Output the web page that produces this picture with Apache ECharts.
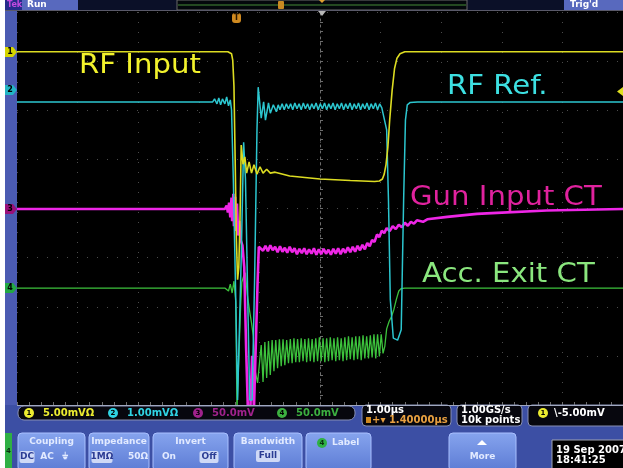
<!DOCTYPE html>
<html><head><meta charset="utf-8">
<script src="https://cdn.jsdelivr.net/npm/echarts@6/dist/echarts.min.js"></script>
<style>html,body{margin:0;padding:0;background:#fff;overflow:hidden}#c{width:623px;height:468px}</style>
</head><body><div id="c"></div>
<script>
// ---- data: time in µs after trigger, level in screen divisions from centre ----
const channelNames = ['RF Input', 'RF Ref.', 'Gun Input CT', 'Acc. Exit CT'];
const channelScales = ['5.00mVΩ', '1.00mVΩ', '50.0mV', '50.0mV'];
const timeBase = '1.00µs';
const horizDelay = '1.40000µs';
const sampleRate = '1.00GS/s';
const recordLength = '10k points';
const triggerLevel = '-5.00mV';
const stamp = ['19 Sep 2007', '18:41:25'];

const rfInput = [[-3.6,3.19],[-0.12,3.19],[-0.09,3.18],[-0.06,3.15],[-0.04,3.02],[-0.02,2.5],[0.0,1.0],[0.02,-0.6],[0.04,-1.45],[0.06,-1.2],[0.08,-0.2],[0.10,1.29],[0.13,0.90],[0.16,1.05],[0.19,0.72],[0.23,0.95],[0.27,0.72],[0.31,0.89],[0.36,0.70],[0.41,0.85],[0.46,0.72],[0.52,0.80],[0.58,0.72],[0.66,0.74],[0.90,0.66],[1.40,0.60],[1.90,0.57],[2.30,0.55],[2.38,0.56],[2.43,0.60],[2.46,0.70],[2.49,0.90],[2.52,1.25],[2.55,1.80],[2.59,2.40],[2.63,2.85],[2.67,3.06],[2.72,3.15],[2.80,3.19],[6.4,3.19]];

const rfRef = [[-3.6,2.17],[-0.37,2.17],[-0.34,2.23],[-0.30,2.13],[-0.27,2.25],[-0.24,2.11],[-0.21,2.23],[-0.17,2.13],[-0.14,2.27],[-0.11,2.09],[-0.08,2.21],[-0.06,2.01],[-0.03,0.58],[0.01,-1.85],[0.04,-3.9],[0.07,-3.9],[0.10,-1.0],[0.14,1.35],[0.17,0.6],[0.21,-2.0],[0.24,-3.9],[0.28,-3.9],[0.32,-1.5],[0.36,1.6],[0.38,2.47],[0.43,1.84],[0.47,2.17],[0.50,1.80],[0.55,2.15],[0.58,1.94],[0.63,2.11],[0.68,1.97],[0.71,2.11],
[0.74,2.01],[0.775,2.13],[0.81,2.01],[0.845,2.13],[0.88,2.03],[0.915,2.13],[0.95,2.01],[0.985,2.15],[1.02,2.03],[1.055,2.13],[1.09,2.01],[1.125,2.15],[1.16,2.03],[1.195,2.13],[1.23,2.01],[1.265,2.13],[1.30,2.03],[1.335,2.15],[1.37,2.01],[1.405,2.13],[1.44,2.03],[1.475,2.15],[1.51,2.01],[1.545,2.13],[1.58,2.03],[1.615,2.15],[1.65,2.01],[1.685,2.13],[1.72,2.03],[1.755,2.15],[1.79,2.01],[1.825,2.13],[1.86,2.03],[1.895,2.15],[1.93,2.01],[1.965,2.13],[2.00,2.03],[2.035,2.15],[2.07,2.01],[2.105,2.13],[2.14,2.03],[2.175,2.15],[2.21,2.01],[2.245,2.13],[2.28,2.03],[2.315,2.15],[2.35,2.01],[2.385,2.13],[2.42,2.05],
[2.45,2.09],[2.50,1.60],[2.53,0.17],[2.56,-1.85],[2.61,-2.64],[2.68,-2.68],[2.74,-2.47],[2.78,0.17],[2.81,1.80],[2.84,2.11],[2.89,2.16],[3.01,2.17],[6.4,2.17]];

const gunInputCT = [[-3.6,-0.01],[-0.17,-0.01],[-0.14,0.06],[-0.12,-0.08],[-0.10,0.12],[-0.08,-0.18],[-0.06,0.22],[-0.05,-0.26],[-0.03,0.30],[-0.02,-0.36],[0.0,0.24],[0.01,-0.46],[0.03,0.10],[0.05,-0.55],[0.07,-0.25],[0.09,-0.64],[0.12,-0.75],[0.15,-1.2],[0.18,-2.8],[0.21,-4.1],[0.25,-4.1],[0.28,-3.0],[0.31,-4.1],[0.34,-4.1],[0.37,-1.5],[0.39,-0.78],
[0.42,-0.74],[0.46,-0.86],[0.50,-0.76],[0.54,-0.87],[0.58,-0.75],[0.62,-0.85],[0.66,-0.78],[0.70,-0.89],[0.74,-0.77],[0.78,-0.88],[0.82,-0.80],[0.86,-0.90],[0.90,-0.78],[0.94,-0.89],[0.98,-0.81],[1.02,-0.93],[1.06,-0.82],[1.10,-0.91],[1.14,-0.81],[1.18,-0.93],[1.22,-0.83],[1.26,-0.92],[1.30,-0.81],[1.34,-0.94],[1.38,-0.83],[1.42,-0.93],[1.46,-0.82],[1.50,-0.92],[1.54,-0.84],[1.58,-0.94],[1.62,-0.82],[1.66,-0.92],[1.70,-0.81],[1.74,-0.93],[1.78,-0.82],[1.82,-0.90],[1.86,-0.79],[1.90,-0.89],[1.94,-0.78],[1.98,-0.88],[2.02,-0.76],[2.06,-0.85],[2.10,-0.74],[2.14,-0.83],[2.18,-0.70],[2.22,-0.77],[2.26,-0.64],[2.30,-0.68],[2.34,-0.53],[2.38,-0.58],[2.42,-0.45],[2.46,-0.50],[2.50,-0.40],[2.55,-0.46],[2.60,-0.36],[2.65,-0.42],[2.70,-0.33],[2.75,-0.38],[2.80,-0.29],[2.85,-0.35],[2.90,-0.27],[2.95,-0.31],[3.00,-0.24],[3.10,-0.27],[3.17,-0.22],[3.50,-0.17],[3.99,-0.11],[4.32,-0.09],[5.14,-0.04],[5.96,-0.02],[6.4,-0.01]];

const accExitCT = [[-3.6,-1.62],[-0.17,-1.62],[-0.14,-1.58],[-0.11,-1.68],[-0.08,-1.54],[-0.05,-1.72],[-0.02,-1.48],[0.01,-1.9],[0.03,-4.1],[0.06,-4.1],[0.09,-2.0],[0.11,-1.5],[0.14,-1.38],[0.17,-1.31],[0.20,-1.75],[0.24,-2.10],[0.27,-2.33],[0.30,-2.6],[0.33,-3.3],[0.37,-3.55],
[0.40,-3.55],[0.43,-2.78],[0.46,-3.53],[0.49,-2.72],[0.52,-3.45],[0.55,-2.70],[0.58,-3.39],[0.61,-2.68],[0.64,-3.31],[0.67,-2.68],[0.70,-3.25],[0.73,-2.66],[0.76,-3.21],[0.79,-2.66],[0.82,-3.19],[0.85,-2.68],[0.88,-3.15],[0.91,-2.66],[0.94,-3.15],[0.97,-2.64],[1.00,-3.13],[1.03,-2.66],[1.06,-3.13],[1.09,-2.64],[1.12,-3.11],[1.15,-2.66],[1.18,-3.13],[1.21,-2.64],[1.24,-3.11],[1.27,-2.66],[1.30,-3.13],[1.33,-2.64],[1.36,-3.11],[1.39,-2.62],[1.42,-3.11],[1.45,-2.64],[1.48,-3.13],[1.51,-2.64],[1.54,-3.11],[1.57,-2.62],[1.60,-3.09],[1.63,-2.64],[1.66,-3.11],[1.69,-2.62],[1.72,-3.09],[1.75,-2.64],[1.78,-3.11],[1.81,-2.62],[1.84,-3.09],[1.87,-2.60],[1.90,-3.07],[1.93,-2.62],[1.96,-3.09],[1.99,-2.60],[2.02,-3.07],[2.05,-2.60],[2.08,-3.09],[2.11,-2.58],[2.14,-3.05],[2.17,-2.60],[2.20,-3.05],[2.23,-2.58],[2.26,-3.03],[2.29,-2.56],[2.32,-3.05],[2.35,-2.56],[2.38,-3.01],[2.41,-2.56],[2.44,-2.95],
[2.47,-2.80],[2.50,-2.45],[2.54,-2.30],[2.58,-2.20],[2.62,-2.05],[2.66,-1.85],[2.70,-1.68],[2.74,-1.63],[2.80,-1.62],[6.4,-1.62]];

const traceColors = ['#dcdc22', '#2cc6cf', '#ee26e6', '#3cc23c'];
const labelColors = ['#f2f22c', '#3de0e2', '#e0229e', '#8ae67e'];
const markerColors = ['#d6d600', '#22b4c4', '#98107a', '#22a844'];
const readoutColors = ['#ecec30', '#30d4e4', '#a0228c', '#3cb040'];

// ---- overlay drawing (scope UI) ----
const FF = '"DejaVu Sans", Verdana, sans-serif';
const G = [];
function R(x, y, w, h, fill, o) { o = o || {}; G.push({type:'rect', shape:{x:x, y:y, width:w, height:h, r:o.r||0}, style:{fill:fill, stroke:o.stroke||null, lineWidth:o.lw||1}, z:o.z||100, silent:true}); }
function T(x, y, s, fill, size, o) { o = o || {}; G.push({type:'text', x:x, y:y, scaleX:o.sx||1, style:{text:s, fill:fill, fontSize:size, fontFamily:o.ff||FF, fontWeight:o.fw||'bold', align:o.align||'left', verticalAlign:'middle'}, z:o.z||110, silent:true}); }
function P(pts, fill, z) { G.push({type:'polygon', shape:{points:pts}, style:{fill:fill}, z:z||105, silent:true}); }
function C(cx, cy, r, fill) { G.push({type:'circle', shape:{cx:cx, cy:cy, r:r}, style:{fill:fill}, z:105, silent:true}); }

// white margin + left bar
R(0, 0, 5, 468, '#ffffff', {z:120});
R(5, 10, 12, 395, '#4b5bb2');
// header
R(5, 0, 618, 10, '#0b1028');
R(5, 0, 17, 10, '#262c8c');
T(7, 5, 'Tek', '#c44ae0', 8);
R(22, 0, 56, 10, '#5869be');
T(27, 5, 'Run', '#ffffff', 9);
R(177, 0, 290, 10, '#04080c', {stroke:'#6a6a6a'});
G.push({type:'line', shape:{x1:178, y1:5, x2:466, y2:5}, style:{stroke:'#2f5f28', lineWidth:1.5}, z:106, silent:true});
R(278, 1, 6, 8, '#c98a22', {r:1, z:107});
P([[319,0],[325,0],[322,3]], '#e0a030', 107);
R(564, 0, 59, 10, '#5869be');
T(570, 5, "Trig'd", '#ffffff', 9);
G.push({type:'line', shape:{x1:5, y1:10.5, x2:623, y2:10.5}, style:{stroke:'#5a5a6a', lineWidth:1}, z:106, silent:true});
P([[318,11],[326,11],[322,16]], '#b8b8b8', 107);
R(232, 13, 9, 10, '#d08a20', {r:3, z:107});
T(236.5, 18, 'T', '#2a1800', 8, {align:'center'});
// channel ground markers
const markerY = [52, 90, 209, 288];
for (let i = 0; i < 4; i++) {
  const y = markerY[i];
  P([[5,y-5],[13,y-5],[17,y],[13,y+5],[5,y+5]], markerColors[i]);
  T(10, y, String(i + 1), '#000000', 8, {align:'center'});
}
// trigger level marker
P([[623,87],[617,91.5],[623,96]], '#e0e020');
// trace labels
const labelPos = [[79, 66], [447, 87], [410, 198], [422, 275]];
for (let i = 0; i < 4; i++) T(labelPos[i][0], labelPos[i][1], channelNames[i], labelColors[i], 27, {fw:'normal', sx:1.08, z:90});

// bottom panel
R(5, 405, 618, 63, '#3c4fa4');
G.push({type:'line', shape:{x1:17, y1:405.5, x2:623, y2:405.5}, style:{stroke:'#a0a8c0', lineWidth:1}, z:106, silent:true});
R(18, 406, 337, 14, '#07070e', {r:6, stroke:'#8890b4', z:101});
const rdX = [29, 113, 198, 282];
for (let i = 0; i < 4; i++) {
  C(rdX[i], 413, 5, readoutColors[i]);
  T(rdX[i], 413, String(i + 1), '#000000', 7, {align:'center'});
  T(rdX[i] + 14, 413, channelScales[i], readoutColors[i], 10);
}
R(362, 405, 89, 21, '#07070e', {r:4, stroke:'#8890b4', z:101});
T(366, 410, timeBase, '#ffffff', 10);
R(366, 417, 5, 6, '#d08a20', {z:107});
T(372, 420, '+▾ ' + horizDelay, '#e8a040', 10);
R(457, 405, 65, 21, '#07070e', {r:4, stroke:'#8890b4', z:101});
T(461, 410, sampleRate, '#ffffff', 10);
T(461, 420, recordLength, '#ffffff', 10);
R(528, 405, 100, 21, '#07070e', {r:4, stroke:'#8890b4', z:101});
C(543, 413, 5, readoutColors[0]);
T(543, 413, '1', '#000000', 7, {align:'center'});
T(554, 413, '\\' + triggerLevel, '#ffffff', 10);

// soft-key buttons
const BY = 433;
function button(x, w, title) {
  G.push({type:'rect', shape:{x:x, y:BY, width:w, height:38, r:4},
    style:{fill:{type:'linear', x:0, y:0, x2:0, y2:1, colorStops:[{offset:0, color:'#86a4ee'}, {offset:1, color:'#5c7bd4'}]}, stroke:'#a9c0ff', lineWidth:1}, z:101, silent:true});
  if (title) T(x + w / 2, BY + 9, title, '#e2eaff', 9, {align:'center'});
}
function opt(x, y, s, hi, w) {
  if (hi) R(x - w / 2, y - 6, w, 12, '#cfd9f6', {r:2, z:108});
  T(x, y, s, hi ? '#2b3c94' : '#e2eaff', 9, {align:'center'});
}
R(5, BY, 7, 35, '#2fb044', {z:101});
T(8.5, 451, '4', '#0a3010', 7, {align:'center'});
button(18, 67, 'Coupling');
opt(27, 457, 'DC', true, 15); opt(47, 457, 'AC', false); opt(65, 457, '⏚', false);
button(89, 60, 'Impedance');
opt(102, 457, '1MΩ', true, 21); opt(138, 457, '50Ω', false);
button(153, 75, 'Invert');
opt(169, 457, 'On', false); opt(209, 457, 'Off', true, 19);
button(234, 68, 'Bandwidth');
opt(268, 456, 'Full', true, 24);
button(306, 65, null);
C(322, 443, 5, '#2fb044'); T(322, 443, '4', '#0a3010', 7, {align:'center'});
T(332, 443, 'Label', '#e2eaff', 9);
button(449, 67, null);
P([[477,445],[487,445],[482,440]], '#ffffff', 108);
T(482.5, 457, 'More', '#e2eaff', 9, {align:'center'});
R(552, 440, 75, 30, '#000000', {stroke:'#a0a4b0', z:101});
T(556, 450, stamp[0], '#ffffff', 10);
T(556, 460, stamp[1], '#ffffff', 10);

// ---- chart ----
const chart = echarts.init(document.getElementById('c'), null, {renderer:'canvas'});
const dot = {color:'#4b4b4b', type:[1, 9], width:1};
const mk = (data, i, w) => ({type:'line', name:channelNames[i], data:data, xAxisIndex:0, yAxisIndex:0,
  showSymbol:false, symbol:'none', lineStyle:{color:traceColors[i], width:w}, itemStyle:{color:traceColors[i]}, z:3, silent:true});
chart.setOption({
  animation:false,
  backgroundColor:'#000000',
  grid:{left:17, top:12, right:-4, bottom:63, containLabel:false},
  xAxis:[
    {type:'value', min:-3.6, max:6.4, show:false},
    {type:'value', min:-5, max:5, interval:1, position:'bottom',
      axisLine:{show:true, onZero:true, lineStyle:{color:'#6c6c6c', type:[2, 4], width:1}},
      axisTick:{show:true, length:3, inside:true, lineStyle:{color:'#6c6c6c'}},
      minorTick:{show:true, splitNumber:5, length:3, lineStyle:{color:'#6c6c6c'}},
      axisLabel:{show:false}, splitLine:{show:true, lineStyle:dot}}
  ],
  yAxis:[
    {type:'value', min:-4, max:4, interval:1,
      axisLine:{show:true, onZero:true, onZeroAxisIndex:1, lineStyle:{color:'#6c6c6c', type:[2, 4], width:1}},
      axisTick:{show:true, length:3, inside:true, lineStyle:{color:'#6c6c6c'}},
      minorTick:{show:true, splitNumber:5, length:3, lineStyle:{color:'#6c6c6c'}},
      axisLabel:{show:false}, splitLine:{show:true, lineStyle:dot}}
  ],
  series:[mk(accExitCT, 3, 1.3), mk(gunInputCT, 2, 2.6), mk(rfRef, 1, 1.5), mk(rfInput, 0, 1.6)],
  graphic:{elements:G}
});
</script>
</body></html>
